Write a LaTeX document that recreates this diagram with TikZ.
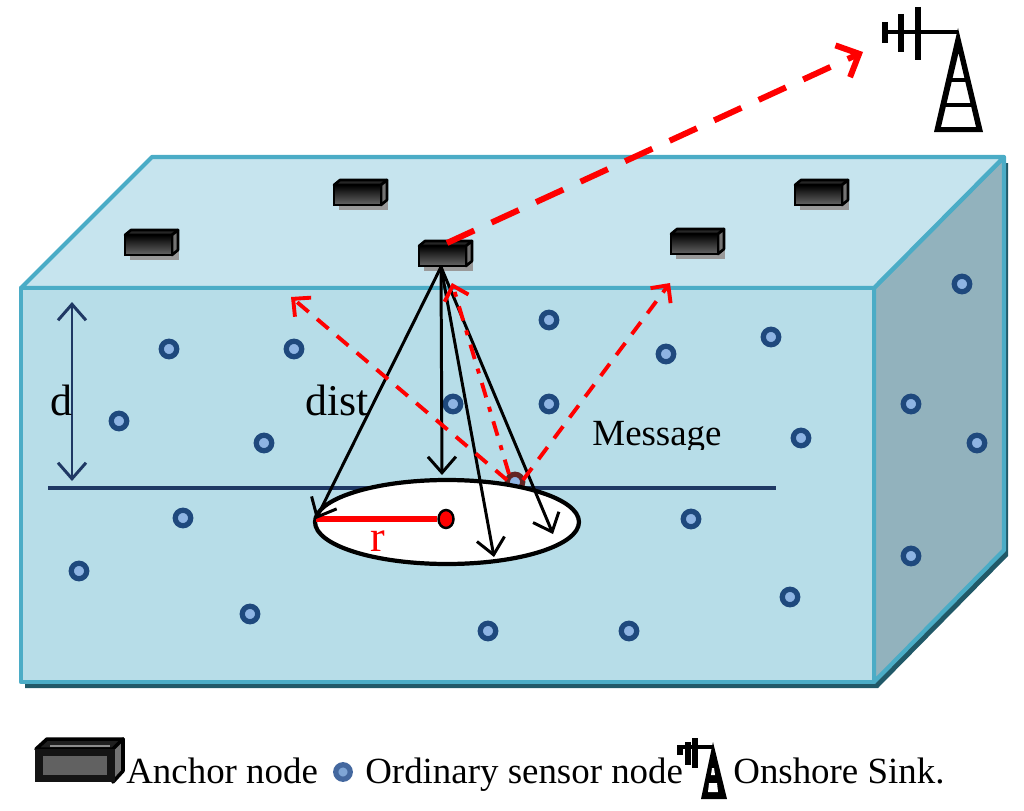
\documentclass[tikz,border=0pt]{standalone}
\usepackage{fontspec}
\setmainfont{Liberation Serif}
\usetikzlibrary{arrows.meta,shapes.geometric}
\definecolor{frontblue}{HTML}{B7DDE8}
\definecolor{topblue}{HTML}{C6E4EE}
\definecolor{sidegray}{HTML}{92B2BD}
\definecolor{edgeblue}{HTML}{4BACC6}
\definecolor{shadeteal}{HTML}{215968}
\definecolor{navyline}{HTML}{1F3864}
\definecolor{ringblue}{HTML}{1F497D}
\definecolor{coreblue}{HTML}{8EB4E3}
\definecolor{hitbrown}{HTML}{632523}
\definecolor{legblue}{HTML}{44689F}
\newcommand{\anchorbox}[3]{
 \begin{scope}[shift={(#2,#3)}]
 \fill[gray!80] (-21,-6) rectangle (28,17);
 \draw[anchoredge, fill=black!85] (-26,-8) -- (-20,-13) -- (27,-13) -- (21,-8) -- cycle;
 \draw[anchoredge, fill=black!55] (21,-8) -- (27,-13) -- (27,7) -- (21,12) -- cycle;
 \node at (-2.5,2) [anchorfront] (#1) {};
 \end{scope}
}
\begin{document}
\begin{tikzpicture}
   [
   x=0.02cm, y=-0.02cm,
   sensor/.style={circle, draw=ringblue, fill=coreblue, line width=3pt, minimum size=3.1mm, inner sep=0pt},
   hitsensor/.style={circle, draw=hitbrown, fill=coreblue, line width=3pt, minimum size=3.1mm, inner sep=0pt},
   anchorfront/.style={rectangle, draw=black, top color=black, bottom color=black!60, line width=1.5pt, minimum width=0.94cm, minimum height=0.4cm, inner sep=0pt},
   anchoredge/.style={draw=black, line width=1.5pt, line join=round},
   boxedge/.style={draw=edgeblue, line width=2.4pt, line join=round},
   rim/.style={ellipse, draw=black, fill=white, line width=2.4pt, minimum width=5.28cm, minimum height=1.68cm, inner sep=0pt},
   centre/.style={ellipse, draw=black, fill=red, line width=1.4pt, minimum width=0.3cm, minimum height=0.36cm, inner sep=0pt},
   reach/.style={draw=black, line width=1.7pt, -{Straight Barb[length=3.2mm,width=5.6mm]}},
   message/.style={draw=red, line width=2.2pt, dash pattern=on 3mm off 2.2mm, -{Straight Barb[length=2.6mm,width=5mm]}},
   reply/.style={draw=red, line width=2.2pt, dash pattern=on 3mm off 2mm on 1mm off 2mm, -{Straight Barb[length=2.6mm,width=5mm]}},
   uplink/.style={draw=red, line width=3.4pt, dash pattern=on 6mm off 3.8mm, -{Straight Barb[length=3.6mm,width=7mm]}},
   tower/.style={draw=black, line width=3.4pt, line join=miter},
   lbl/.style={inner sep=0pt, font=\fontsize{21}{21}\selectfont},
   biglbl/.style={inner sep=0pt, font=\fontsize{25}{25}\selectfont},
   ]
 \useasboundingbox (0,0) rectangle (1024,811);
 % water block
 \fill[shadeteal] (25,688) -- (878,688) -- (1008,556) -- (1008,163) -- (1000,163) -- (874,682) -- (25,682) -- cycle;
 \draw[boxedge, fill=sidegray] (874,288) -- (1004,157) -- (1004,550) -- (874,682) -- cycle;
 \draw[boxedge, fill=topblue] (21,288) -- (152,157) -- (1004,157) -- (874,288) -- cycle;
 \draw[boxedge, fill=frontblue] (21,288) rectangle (874,682);
 % anchors
 \anchorbox{a1}{151}{243}
 \anchorbox{a2}{360}{193}
 \anchorbox{a3}{445}{254}
 \anchorbox{a4}{697}{242}
 \anchorbox{a5}{821}{193}
 % sensors
 \node at (169,349) [sensor] (s1) {};
 \node at (294,349) [sensor] (s2) {};
 \node at (119,421) [sensor] (s3) {};
 \node at (264,443) [sensor] (s4) {};
 \node at (453,404) [sensor] (s5) {};
 \node at (549,320) [sensor] (s6) {};
 \node at (549,404) [sensor] (s7) {};
 \node at (666,354) [sensor] (s8) {};
 \node at (771,337) [sensor] (s9) {};
 \node at (801,438) [sensor] (s10) {};
 \node at (183,518) [sensor] (s11) {};
 \node at (691,519) [sensor] (s12) {};
 \node at (79,571) [sensor] (s13) {};
 \node at (250,614) [sensor] (s14) {};
 \node at (488,631) [sensor] (s15) {};
 \node at (629,631) [sensor] (s16) {};
 \node at (790,597) [sensor] (s17) {};
 \node at (962,284) [sensor] (s18) {};
 \node at (911,404) [sensor] (s19) {};
 \node at (977,443) [sensor] (s20) {};
 \node at (911,556) [sensor] (s21) {};
 \node at (515,482) [hitsensor] (hit) {};
 % depth line and footprint
 \coordinate (lineL) at (48,488);
 \coordinate (lineR) at (776,488);
 \draw[navyline, line width=2pt] (lineL) -- (lineR);
 \node at (447,522) [rim] (foot) {};
 \node at (446,519) [centre] (mid) {};
 \coordinate (rimL) at (316,519);
 \draw[red, line width=2.9pt] (rimL) -- (mid);
 % depth arrow
 \coordinate (dTop) at (72,302);
 \coordinate (dBot) at (72,481);
 \draw[navyline, line width=1.7pt, {Straight Barb[length=3.2mm,width=5.6mm]}-{Straight Barb[length=3.2mm,width=5.6mm]}] (dTop) -- (dBot);
 % acoustic cone
 \coordinate (src) at (441,267);
 \coordinate (p2) at (442,475);
 \coordinate (p3) at (494,557);
 \coordinate (p4) at (553,534);
 \draw[reach] (src) -- (rimL);
 \draw[reach] (src) -- (p2);
 \draw[reach] (src) -- (p3);
 \draw[reach] (src) -- (p4);
 % messages
 \coordinate (hitL) at (507,480);
 \coordinate (hitM) at (509,474);
 \coordinate (hitR) at (523,480);
 \coordinate (m1) at (291,297);
 \coordinate (m2) at (670,283);
 \coordinate (m3) at (452,283);
 \draw[message] (hitL) -- (m1);
 \draw[message] (hitR) -- (m2);
 \draw[reply] (hitM) -- (m3);
 % uplink and sink
 \coordinate (sink) at (863,52);
 \coordinate (up) at (447,243);
 \draw[uplink] (up) -- (sink);
 \draw[tower, line width=2.8pt] (885,32) -- (958,32);
 \draw[tower] (885,22) -- (885,43);
 \draw[tower] (901,14) -- (901,52);
 \draw[tower] (918,7) -- (918,60);
 \fill[black, even odd rule] (958,28) -- (934,132) -- (983,132) -- cycle (958.5,53) -- (941,127) -- (976,127) -- cycle;
 \draw[tower, line width=2.8pt] (950,80) -- (967,80);
 \draw[tower, line width=2.8pt] (945,105) -- (972,105);
 % labels
 \node at (61,400) [biglbl] (dlbl) {d};
 \node at (337,400) [biglbl] (distlbl) {dist};
 \begin{scope}
 \clip (585,415) rectangle (730,449);
 \node at (657,437) [lbl] (msglbl) {Message};
 \end{scope}
 \node at (378,541) [biglbl, text=red] (rlbl) {r};
 % legend
 \draw[black, line width=2pt, fill=black!88, line join=round] (36,749) -- (47,739) -- (123,739) -- (113,749) -- cycle;
 \draw[black, line width=2pt, fill=black!55, line join=round] (113,749) -- (123,739) -- (123,771) -- (113,782) -- cycle;
 \draw[black!45, line width=1pt] (50,746) -- (110,746);
 \node at (75,765.5) [rectangle, draw=black!92, fill=black!62, line width=4.5pt, minimum width=1.45cm, minimum height=0.52cm, inner sep=0pt] (legA) {};
 \node at (126,783) [lbl, anchor=base west] (legAt) {Anchor node};
 \node at (343,772) [circle, draw=legblue, fill=coreblue!80!legblue, line width=3pt, minimum size=2.9mm, inner sep=0pt] (legS) {};
 \node at (365,783) [lbl, anchor=base west] (legSt) {Ordinary sensor node};
 \draw[black, line width=2.6pt] (680,747) -- (713,747);
 \draw[black, line width=3pt] (680,745) -- (680,755);
 \draw[black, line width=3pt] (688,742) -- (688,765);
 \draw[black, line width=3pt] (695,738) -- (695,768);
 \fill[black] (713,742) -- (701,799) -- (727,799) -- cycle;
 \fill[white] (712,768) -- (714,768) -- (715,775) -- (711,775) -- cycle;
 \fill[white] (709,783) -- (717,783) -- (718,792) -- (708,792) -- cycle;
 \node at (733,783) [lbl, anchor=base west] (legTt) {Onshore Sink.};
\end{tikzpicture}
\end{document}
